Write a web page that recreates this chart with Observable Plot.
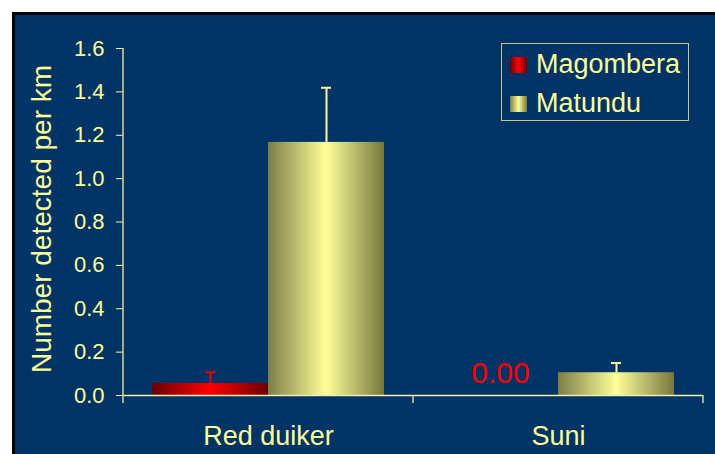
<!DOCTYPE html>
<html>
<head>
<meta charset="utf-8">
<script src="https://cdn.jsdelivr.net/npm/d3@7"></script>
<script src="https://cdn.jsdelivr.net/npm/@observablehq/plot@0.6"></script>
<style>
  html, body { margin: 0; padding: 0; background: #ffffff; }
  #wrap { position: relative; width: 715px; height: 454px; overflow: hidden; font-family: "Liberation Sans", Arial, sans-serif; }
  #panel { position: absolute; left: 12px; top: 12px; right: 0; bottom: 0; background: #003366; border-left: 3px solid #000; border-top: 3px solid #000; }
  #chart { position: absolute; left: 0; top: 0; }
  #ytitle { position: absolute; left: 42px; top: 219px; transform: translate(-50%, -50%) rotate(-90deg); font-size: 28px; line-height: 28px; color: #FFFF99; white-space: nowrap; }
  #legend { position: absolute; left: 501px; top: 43px; width: 188px; height: 78px; border: 1px solid #c8c890; box-sizing: border-box; }
  .item { position: absolute; left: 0; height: 30px; width: 100%; }
  .sw { position: absolute; left: 8px; width: 17px; height: 16px; }
  .lab { position: absolute; left: 34px; font-size: 27px; color: #FFFF99; line-height: 30px; white-space: nowrap; }
</style>
</head>
<body>
<svg width="0" height="0" style="position:absolute">
  <defs>
    <linearGradient id="gRed" x1="0" y1="0" x2="1" y2="0">
      <stop offset="0" stop-color="#6a0000"/>
      <stop offset="0.5" stop-color="#ff0000"/>
      <stop offset="1" stop-color="#6a0000"/>
    </linearGradient>
    <linearGradient id="gYel" x1="0" y1="0" x2="1" y2="0">
      <stop offset="0" stop-color="#7d7d48"/>
      <stop offset="0.5" stop-color="#ffff99"/>
      <stop offset="1" stop-color="#77773f"/>
    </linearGradient>
  </defs>
</svg>
<div id="wrap">
  <div id="panel"></div>
  <div id="chart"></div>
  <div id="ytitle"></div>
  <div id="legend"></div>
</div>
<script>
// ---- data ----
const categories = ["Red duiker", "Suni"];
const sites = ["Magombera", "Matundu"];
const magomberaValues = [0.055, 0.0];
const matunduValues = [1.167, 0.105];
const magomberaErrors = [0.052, 0.0];
const matunduErrors = [0.252, 0.045];
const yTicks = [0, 0.2, 0.4, 0.6, 0.8, 1.0, 1.2, 1.4, 1.6];
const yLabel = "Number detected per km";

const siteValues = {Magombera: magomberaValues, Matundu: matunduValues};
const siteErrors = {Magombera: magomberaErrors, Matundu: matunduErrors};
const siteFill = {Magombera: "url(#gRed)", Matundu: "url(#gYel)"};
const siteStroke = {Magombera: "#ee0000", Matundu: "#ffff99"};
const siteSwatch = {
  Magombera: "linear-gradient(to right, #6a0000, #ff0000 50%, #6a0000)",
  Matundu: "linear-gradient(to right, #7d7d48, #ffff99 50%, #77773f)"
};

const rows = [];
categories.forEach((c, i) => sites.forEach(s => rows.push({
  category: c, site: s, value: siteValues[s][i], err: siteErrors[s][i]
})));
const errRows = rows.filter(d => d.err > 0);
const zeroRows = rows.filter(d => d.value === 0);

const txt = "#FFFF99";
const plot = Plot.plot({
  width: 715,
  height: 454,
  marginLeft: 122,
  marginRight: 12,
  marginTop: 48,
  marginBottom: 59,
  style: {background: "transparent", color: txt, fontFamily: '"Liberation Sans", Arial, sans-serif'},
  fx: {domain: categories, padding: 0, label: null},
  x: {domain: sites, paddingInner: 0, paddingOuter: 0.25, axis: null},
  y: {domain: [0, 1.6]},
  color: {domain: sites, range: sites.map(s => siteFill[s])},
  marks: [
    Plot.barY(rows, {fx: "category", x: "site", y: "value", fill: "site"}),
    Plot.ruleX(errRows, {fx: "category", x: "site", y1: "value", y2: d => d.value + d.err,
      stroke: d => siteStroke[d.site], strokeWidth: 2}),
    Plot.tickY(errRows, {fx: "category", x: "site", y: d => d.value + d.err,
      stroke: d => siteStroke[d.site], strokeWidth: 2, inset: 53}),
    Plot.text(zeroRows, {fx: "category", x: "site", y: "value", text: d => d3.format(".2f")(d.value),
      fill: "#ff0000", fontSize: 30, lineAnchor: "bottom", dy: -13}),
    Plot.ruleY([0], {stroke: "#f0f0a8", strokeWidth: 1.5}),
    Plot.axisY({ticks: yTicks, tickFormat: d3.format(".1f"), tickSize: 7, tickPadding: 12,
      fontSize: 22, label: null}),
    Plot.axisFx({anchor: "bottom", tickSize: 0, tickPadding: 30, fontSize: 27, label: null})
  ]
});

// axis line and category boundary ticks, from the plot's own scales
const y = plot.scale("y"), fx = plot.scale("fx");
const y0 = y.apply(0), yTop = y.apply(1.6);
const bounds = categories.map(c => fx.apply(c));
bounds.push(fx.apply(categories[categories.length - 1]) + fx.bandwidth);
const g = d3.select(plot).append("g").attr("stroke", "#d8d890").attr("stroke-width", 1.5);
g.append("line").attr("x1", bounds[0]).attr("x2", bounds[0]).attr("y1", yTop).attr("y2", y0 + 8);
bounds.slice(1).forEach(b => g.append("line").attr("x1", b).attr("x2", b).attr("y1", y0).attr("y2", y0 + 8));

document.getElementById("chart").appendChild(plot);
document.getElementById("ytitle").textContent = yLabel;

// legend
const leg = document.getElementById("legend");
sites.forEach((s, i) => {
  const it = document.createElement("div");
  it.className = "item";
  it.style.top = (5 + i * 39) + "px";
  const sw = document.createElement("div");
  sw.className = "sw";
  sw.style.top = "8px";
  sw.style.background = siteSwatch[s];
  const lb = document.createElement("div");
  lb.className = "lab";
  lb.style.top = "0px";
  lb.textContent = s;
  it.appendChild(sw); it.appendChild(lb);
  leg.appendChild(it);
});
</script>
</body>
</html>
